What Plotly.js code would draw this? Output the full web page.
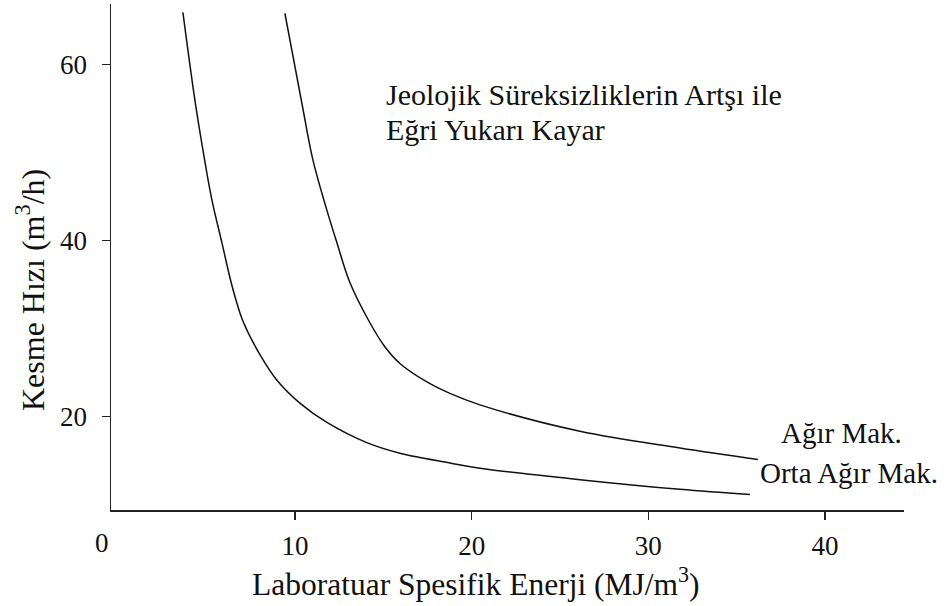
<!DOCTYPE html>
<html>
<head>
<meta charset="utf-8">
<script src="https://cdn.plot.ly/plotly-3.0.1.min.js"></script>
<style>
  html, body { margin: 0; padding: 0; background: #fff; }
  #chart { width: 950px; height: 606px; }
</style>
</head>
<body>
<div id="chart"></div>
<script>
// Orta Ağır Mak. curve (lower)
const ortaX = [3.66, 4.34, 4.79, 5.30, 5.87, 6.34, 6.65, 7.06, 8.02, 8.98, 10.28, 11.81, 14.07, 15.94, 18.77, 20.47, 26.13, 31.79, 35.75];
const ortaY = [65.9, 55.9, 50.3, 44.6, 39.7, 35.6, 33.3, 30.8, 27.0, 24.1, 21.5, 19.3, 17.0, 15.8, 14.7, 14.1, 12.8, 11.7, 11.1];

// Ağır Mak. curve (upper)
const agirX = [9.43, 10.39, 11.02, 11.81, 12.38, 13.11, 14.25, 15.09, 15.94, 17.47, 18.77, 20.47, 26.13, 31.79, 36.2];
const agirY = [65.8, 55.6, 49.1, 43.4, 39.7, 35.2, 30.6, 27.9, 26.0, 23.9, 22.6, 21.3, 18.3, 16.4, 15.1];

const xTicks = [10, 20, 30, 40];
const yTicks = [20, 40, 60];

const xTitle = 'Laboratuar Spesifik Enerji (MJ/m<sup>3</sup>)';
const yTitle = 'Kesme Hızı (m<sup>3</sup>/h)';

const serif = '"Liberation Serif", "Times New Roman", Times, serif';
const ink = '#111';

const curveLine = { color: '#111', width: 1.5, shape: 'spline', smoothing: 1 };

const traces = [
  { x: ortaX, y: ortaY, mode: 'lines', line: curveLine, hoverinfo: 'skip' },
  { x: agirX, y: agirY, mode: 'lines', line: curveLine, hoverinfo: 'skip' }
];

function label(text, x, y, size, extra) {
  return Object.assign({
    text: text, x: x, y: y, xref: 'x', yref: 'y', showarrow: false,
    xanchor: 'center', yanchor: 'middle',
    font: { family: serif, size: size, color: ink }
  }, extra || {});
}

const layout = {
  width: 950,
  height: 606,
  margin: { l: 111, r: 46, t: 4, b: 96 },
  paper_bgcolor: '#fff',
  plot_bgcolor: '#fff',
  showlegend: false,
  font: { family: serif, color: ink, size: 27 },
  xaxis: {
    range: [-0.41, 44.47],
    tickvals: xTicks,
    ticktext: xTicks.map(String),
    ticks: 'outside',
    ticklen: 8,
    tickwidth: 1.5,
    tickcolor: '#222',
    ticklabelstandoff: 3,
    showline: true,
    linecolor: '#222',
    linewidth: 1.5,
    showgrid: false,
    zeroline: false,
    tickfont: { family: serif, size: 27, color: ink }
  },
  yaxis: {
    range: [9.35, 66.85],
    tickvals: yTicks,
    ticktext: yTicks.map(String),
    ticks: 'outside',
    ticklen: 8,
    tickwidth: 1.5,
    tickcolor: '#222',
    ticklabelstandoff: 9,
    showline: true,
    linecolor: '#222',
    linewidth: 1.5,
    showgrid: false,
    zeroline: false,
    tickfont: { family: serif, size: 27, color: ink }
  },
  annotations: [
    // axis titles
    label(xTitle, 0.46, -0.142, 31.5, { xref: 'paper', yref: 'paper' }),
    label(yTitle, -0.102, 0.435, 32, { xref: 'paper', yref: 'paper', textangle: -90 }),
    // origin label (no tick mark at 0)
    label('0', -0.011, -0.066, 27, { xref: 'paper', yref: 'paper' }),
    // note
    label('Jeolojik Süreksizliklerin Artşı ile', 15.03, 56.6, 30, { xanchor: 'left' }),
    label('Eğri Yukarı Kayar', 15.03, 52.6, 30, { xanchor: 'left' }),
    // curve labels
    label('Ağır Mak.', 40.95, 18.1, 29),
    label('Orta Ağır Mak.', 41.35, 13.56, 29)
  ]
};

Plotly.newPlot('chart', traces, layout, { displayModeBar: false, staticPlot: true });
</script>
</body>
</html>
